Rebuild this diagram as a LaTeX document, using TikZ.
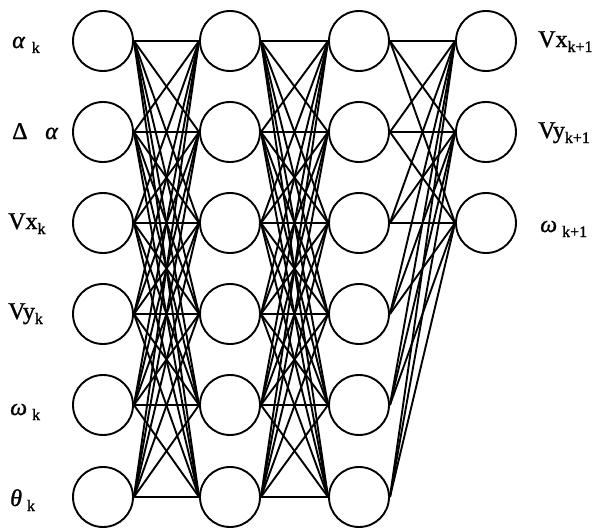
\documentclass[tikz,border=0pt]{standalone}
\usepackage{fontspec}
\setmainfont{Liberation Serif}[FakeBold=1.2]
\newcommand{\sbk}[1]{\raisebox{-5pt}{\fontsize{16}{16}\selectfont #1}}
\begin{document}
\begin{tikzpicture}[x=1pt,y=-1pt,
  neuron/.style={circle,draw,line width=1.9pt,minimum size=60pt,inner sep=0pt},
  conn/.style={line width=1.9pt},
  lab/.style={font=\fontsize{24}{26}\selectfont,inner sep=0pt,anchor=base west}]
\useasboundingbox[fill=white] (0,0) rectangle (613,530);
% neurons
\foreach \c/\x in {1/103,2/230,3/359}{
  \foreach \r/\y in {1/41,2/132,3/223,4/314,5/405,6/497}{
    \node[neuron] (n\c-\r) at (\x,\y) {};
  }
}
\foreach \r/\y in {1/41,2/132,3/223}{
  \node[neuron] (n4-\r) at (486,\y) {};
}
% connections
\foreach \c/\d in {1/2,2/3}{
  \foreach \i in {1,...,6}{
    \foreach \j in {1,...,6}{
      \draw[conn] (n\c-\i.east) -- (n\d-\j.west);
    }
  }
}
\foreach \i in {1,...,6}{
  \foreach \j in {1,2,3}{
    \draw[conn] (n3-\i.east) -- (n4-\j.west);
  }
}
% input labels
\node[lab] (la1) at (12,48) {\itshape α\hspace{7pt}\upshape\sbk{k}};
\node[lab] (la2) at (12,139) {Δ};
\node[lab] (la2b) at (45,139) {\itshape α};
\node[lab] (la3) at (8,229) {Vx\sbk{k}};
\node[lab] (la4) at (8,319) {Vy\sbk{k}};
\node[lab] (la5) at (10,415) {\itshape ω\hspace{5pt}\upshape\sbk{k}};
\node[lab] (la6) at (10,506) {\itshape θ\hspace{5pt}\upshape\sbk{k}};
% output labels
\node[lab] (lo1) at (538,47) {Vx\sbk{k+1}};
\node[lab] (lo2) at (538,138) {Vy\sbk{k+1}};
\node[lab] (lo3) at (540,232) {\itshape ω\hspace{5pt}\upshape\sbk{k+1}};
\end{tikzpicture}
\end{document}
